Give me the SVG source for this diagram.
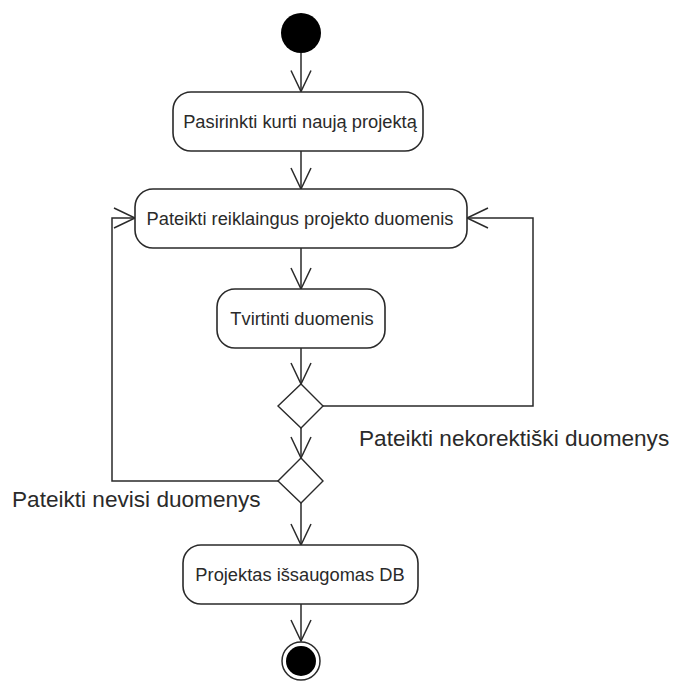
<svg xmlns="http://www.w3.org/2000/svg" width="676" height="682" viewBox="0 0 676 682">
<defs>
<style>
.box{fill:#fff;stroke:#2a2a2a;stroke-width:1.6}
.dia{fill:#fff;stroke:#2a2a2a;stroke-width:1.4}
.t{font-family:"Liberation Sans",Arial,sans-serif;font-size:18.3px;fill:#2a2a2a;text-anchor:middle}
.lbl{font-family:"Liberation Sans",Arial,sans-serif;font-size:22.6px;fill:#2a2a2a}
.c{fill:none;stroke:#2a2a2a;stroke-width:1.5}
</style>
<marker id="arr" viewBox="-22 -12 24 24" markerWidth="24" markerHeight="24" refX="0" refY="0" orient="auto" markerUnits="userSpaceOnUse">
<path d="M-21,-10 L0,0 L-21,10" fill="none" stroke="#2a2a2a" stroke-width="1.5"/>
</marker>
</defs>
<rect width="676" height="682" fill="#fff"/>
<g id="connectors">
<line class="c" x1="301" y1="53" x2="301" y2="91.5" marker-end="url(#arr)"/>
<line class="c" x1="301" y1="151" x2="301" y2="189" marker-end="url(#arr)"/>
<line class="c" x1="301" y1="248" x2="301" y2="289" marker-end="url(#arr)"/>
<line class="c" x1="301" y1="348" x2="301" y2="384" marker-end="url(#arr)"/>
<line class="c" x1="301" y1="428" x2="301" y2="458" marker-end="url(#arr)"/>
<line class="c" x1="301" y1="503" x2="301" y2="545" marker-end="url(#arr)"/>
<line class="c" x1="301" y1="604" x2="301" y2="641" marker-end="url(#arr)"/>
<polyline class="c" points="323,406 533,406 533,218 467,218" marker-end="url(#arr)"/>
<polyline class="c" points="278,481 112,481 112,218 135,218" marker-end="url(#arr)"/>
</g>
<g id="start"><circle cx="301" cy="33" r="20" fill="#000"/></g>
<g id="n1"><rect class="box" x="173" y="92" width="250" height="59" rx="18"/><text class="t" x="300" y="128">Pasirinkti kurti naują projektą</text></g>
<g id="n2"><rect class="box" x="135" y="189" width="332" height="59" rx="18"/><text class="t" x="300" y="225">Pateikti reiklaingus projekto duomenis</text></g>
<g id="n3"><rect class="box" x="217" y="289" width="168" height="59" rx="18"/><text class="t" x="302" y="325">Tvirtinti duomenis</text></g>
<g id="d1"><polygon class="dia" points="301,384 323,406 301,428 278,406"/></g>
<g id="d2"><polygon class="dia" points="301,458 323,481 301,503 278,481"/></g>
<g id="n4"><rect class="box" x="183" y="545" width="235" height="59" rx="18"/><text class="t" x="300" y="581">Projektas išsaugomas DB</text></g>
<g id="end"><circle cx="301" cy="661" r="19" fill="#fff" stroke="#2a2a2a" stroke-width="1.5"/><circle cx="301" cy="661" r="15" fill="#000"/></g>
<g id="labels">
<text class="lbl" x="359" y="446">Pateikti nekorektiški duomenys</text>
<text class="lbl" x="12" y="507">Pateikti nevisi duomenys</text>
</g>
</svg>
